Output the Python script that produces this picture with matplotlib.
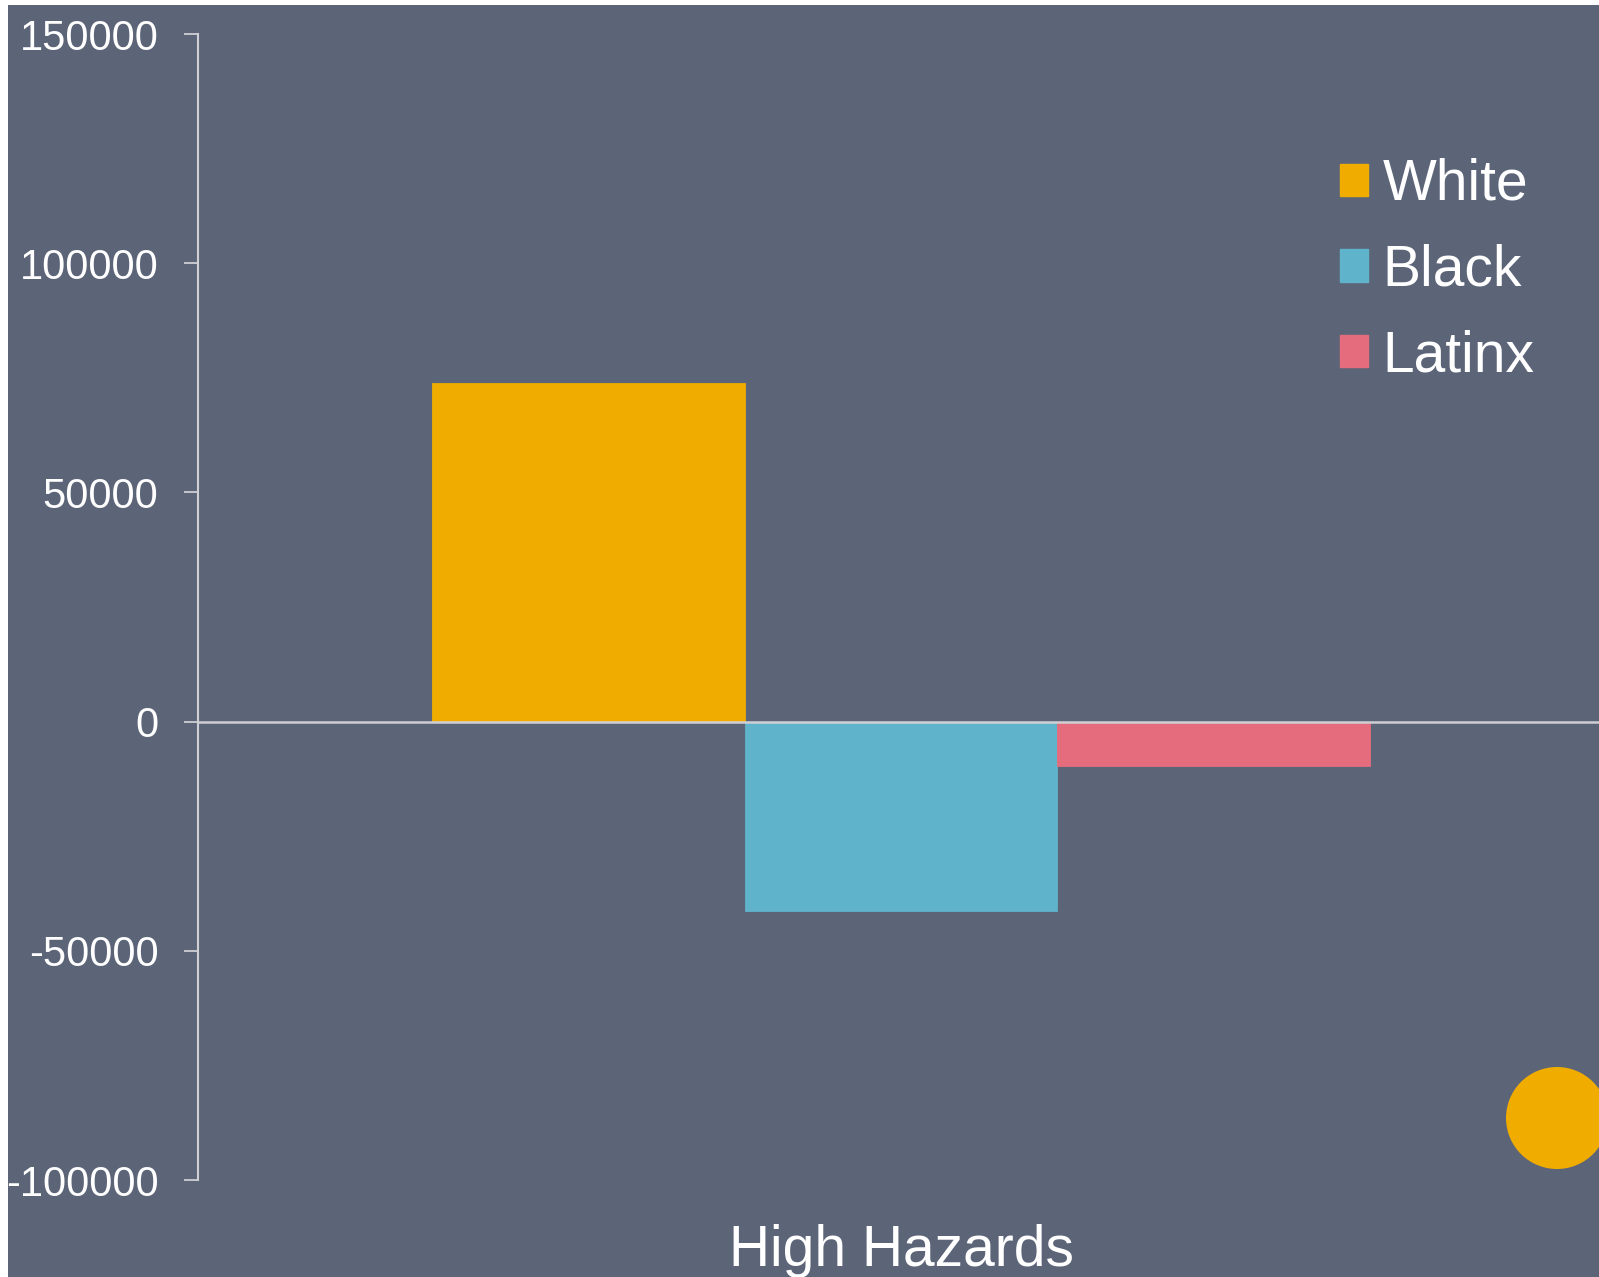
import matplotlib
matplotlib.use("Agg")
import matplotlib.pyplot as plt
from matplotlib.patches import Rectangle, Circle, Patch

# hazard exposure difference by group
category = "High Hazards"
groups = ["White", "Black", "Latinx"]
values = [73800, -41300, -9700]
colors = ["#F0AD00", "#5FB3CB", "#E56C7C"]
yticks = [-100000, -50000, 0, 50000, 100000, 150000]

bg = "#5C6478"
line_col = "#CFCFD4"

plt.rcParams["font.family"] = ["Liberation Sans", "DejaVu Sans"]

W, H = 1599, 1277
fig = plt.figure(figsize=(W / 100, H / 100), dpi=100)
fig.patch.set_facecolor("white")
fig.patches.append(Rectangle((8 / W, 0), 1 - 8 / W, 1 - 5 / H,
                             transform=fig.transFigure, facecolor=bg,
                             edgecolor="none", zorder=-10))

# plot area in pixels: x 198..1604, y 34..1180
ax = fig.add_axes([198 / W, (H - 1180) / H, 1406 / W, 1146 / H])
ax.set_facecolor("none")
ax.set_zorder(1)

bar_w = 0.2226
offsets = [-bar_w, 0, bar_w]
for g, v, c, dx in zip(groups, values, colors, offsets):
    ax.bar(dx, v, width=bar_w, color=c, edgecolor=c, linewidth=0.6,
           label=g, zorder=2)

ax.axhline(0, color=line_col, linewidth=1.8, zorder=3)

ax.set_xlim(-0.5, 0.5)
ax.set_ylim(-100000, 150000)
ax.set_yticks(yticks)
ax.set_yticklabels([str(t) for t in yticks])
ax.set_xticks([0])
ax.set_xticklabels([category])

for s in ["top", "right", "bottom"]:
    ax.spines[s].set_visible(False)
ax.spines["left"].set_color(line_col)
ax.spines["left"].set_linewidth(1.5)

ax.tick_params(axis="y", colors=line_col, length=10, width=1.3, pad=18.5,
               labelsize=30, labelcolor="white")
ax.tick_params(axis="x", length=0, pad=32, labelsize=41, labelcolor="white")

handles = [Patch(facecolor=c, edgecolor=c) for c in colors]
leg = fig.legend(handles, groups, loc="upper left",
                 bbox_to_anchor=(1340 / W, 1 - 158 / H),
                 bbox_transform=fig.transFigure, frameon=False,
                 fontsize=41, handlelength=0.5, handleheight=0.5,
                 handletextpad=0.25, labelspacing=0.555, borderpad=0,
                 borderaxespad=0)
leg.set_zorder(4)
for t in leg.get_texts():
    t.set_color("white")

# accent dot in the lower right corner
fig.patches.append(Circle((15.57, 1.59), 0.51, transform=fig.dpi_scale_trans,
                          facecolor="#F0AD00", edgecolor="none", zorder=5))

fig.savefig("out.png", dpi=100, facecolor=fig.get_facecolor())
